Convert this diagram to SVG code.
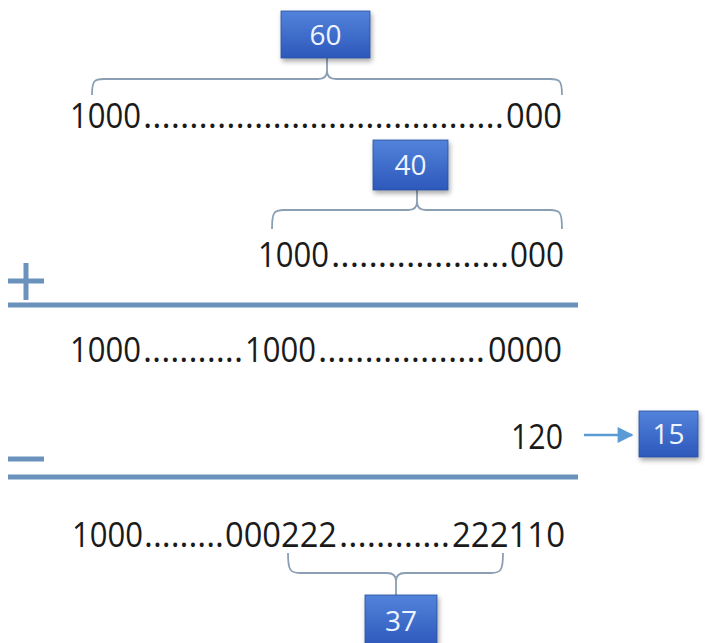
<svg xmlns="http://www.w3.org/2000/svg" width="705" height="643" viewBox="0 0 705 643">
<style>
.num{font-family:"Open Sans","Liberation Sans",sans-serif;font-size:34px;fill:#1a1a1a}
.lbl{font-family:"Open Sans","Liberation Sans",sans-serif;font-size:28px;fill:#eef4ff;text-anchor:middle}
.box{fill:url(#bg);stroke:#2a4f9e;stroke-width:0.8;filter:url(#sh)}
.brace{fill:none;stroke:#8a9fb3;stroke-width:1.8}
.bar{stroke:#6a92bd;stroke-width:5;stroke-linecap:butt}
</style>
<defs>
<linearGradient id="bg" x1="0" y1="0" x2="0" y2="1">
<stop offset="0" stop-color="#5283db"/>
<stop offset="1" stop-color="#2d58bb"/>
</linearGradient>
<filter id="sh" x="-20%" y="-20%" width="150%" height="160%">
<feDropShadow dx="1.5" dy="3" stdDeviation="2.5" flood-color="#000" flood-opacity="0.35"/>
</filter>
<marker id="ah" viewBox="0 0 10 10" refX="9" refY="5" markerUnits="userSpaceOnUse" markerWidth="17" markerHeight="16" orient="auto">
<path d="M0,0 L10,5 L0,10 z" fill="#5b9bd5"/>
</marker>
</defs>
<rect width="705" height="643" fill="#ffffff"/>

<g id="connectors">
<path class="brace" d="M92,95 C92,81 94,79 104,79 L318,79 C324,79 327,77 327,71 C327,77 330,79 336,79 L550,79 C560,79 562,81 562,95"/>
<line class="brace" x1="327" y1="58" x2="327" y2="71"/>
<path class="brace" d="M272,229 C272,212 274,210 284,210 L408,210 C414,210 417,208 417,202 C417,208 420,210 426,210 L550,210 C560,210 562,212 562,229"/>
<line class="brace" x1="417" y1="190" x2="417" y2="202"/>
<path class="brace" d="M288,553 C288,570 290,573 300,573 L387,573 C393,573 396,575 396,581 C396,575 399,573 405,573 L491,573 C501,573 503,570 503,553"/>
<line class="brace" x1="396" y1="581" x2="396" y2="595"/>
<line x1="584" y1="435" x2="632" y2="435" stroke="#5b9bd5" stroke-width="2.5" marker-end="url(#ah)"/>
</g>

<g id="node-60">
<rect class="box" x="281" y="11" width="89" height="47"/>
<text class="lbl" x="325.5" y="45">60</text>
</g>
<g id="node-40">
<rect class="box" x="373" y="140" width="75" height="50"/>
<text class="lbl" x="410.5" y="175">40</text>
</g>
<g id="node-15">
<rect class="box" x="639" y="411" width="59" height="46"/>
<text class="lbl" x="668.5" y="444">15</text>
</g>
<g id="node-37">
<rect class="box" x="365" y="595" width="72" height="52"/>
<text class="lbl" x="401" y="631">37</text>
</g>

<g id="row1">
<text class="num" y="128"><tspan x="70" textLength="71" lengthAdjust="spacingAndGlyphs">1000</tspan><tspan x="143" textLength="361" lengthAdjust="spacingAndGlyphs">.......................................</tspan><tspan x="506" textLength="56" lengthAdjust="spacingAndGlyphs">000</tspan></text>
</g>
<g id="row2">
<text class="num" y="267"><tspan x="258" textLength="71" lengthAdjust="spacingAndGlyphs">1000</tspan><tspan x="331" textLength="178" lengthAdjust="spacingAndGlyphs">...................</tspan><tspan x="510" textLength="54" lengthAdjust="spacingAndGlyphs">000</tspan></text>
</g>
<g id="plus">
<line class="bar" x1="8" y1="281" x2="44" y2="281"/>
<line class="bar" x1="26" y1="263" x2="26" y2="300"/>
</g>
<line class="bar" x1="8" y1="305" x2="578" y2="305"/>
<g id="row3">
<text class="num" y="362"><tspan x="70" textLength="71" lengthAdjust="spacingAndGlyphs">1000</tspan><tspan x="143" textLength="100" lengthAdjust="spacingAndGlyphs">...........</tspan><tspan x="245" textLength="71" lengthAdjust="spacingAndGlyphs">1000</tspan><tspan x="318" textLength="167" lengthAdjust="spacingAndGlyphs">..................</tspan><tspan x="488" textLength="74" lengthAdjust="spacingAndGlyphs">0000</tspan></text>
</g>
<g id="row-120">
<text class="num" x="511" y="449" textLength="52" lengthAdjust="spacingAndGlyphs">120</text>
</g>
<line class="bar" x1="8" y1="459" x2="44" y2="459"/>
<line class="bar" x1="8" y1="477" x2="578" y2="477"/>
<g id="row4">
<text class="num" y="547"><tspan x="72" textLength="71" lengthAdjust="spacingAndGlyphs">1000</tspan><tspan x="144" textLength="80" lengthAdjust="spacingAndGlyphs">.........</tspan><tspan x="225" textLength="112" lengthAdjust="spacingAndGlyphs">000222</tspan><tspan x="339" textLength="111" lengthAdjust="spacingAndGlyphs">............</tspan><tspan x="452" textLength="113" lengthAdjust="spacingAndGlyphs">222110</tspan></text>
</g>
</svg>
